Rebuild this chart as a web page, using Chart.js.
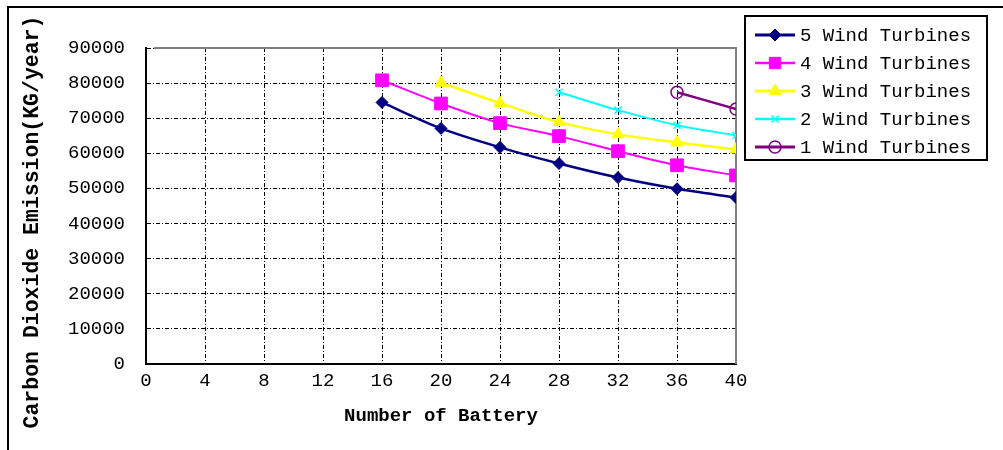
<!DOCTYPE html>
<html>
<head>
<meta charset="utf-8">
<script src="https://cdn.jsdelivr.net/npm/chart.js@4/dist/chart.umd.min.js"></script>
<style>
  html, body { margin: 0; padding: 0; background: #ffffff; }
  #wrap { width: 1003px; height: 450px; position: relative; }
  canvas { display: block; }
</style>
</head>
<body>
<div id="wrap"><canvas id="chart" width="1003" height="450"></canvas></div>
<script>
// Number of batteries on the x axis
const batteries = [16, 20, 24, 28, 32, 36, 40];

// Annual CO2 emission (KG/year) per turbine count; null = configuration not shown
const turbines5 = [74500, 67100, 61700, 57100, 53100, 49900, 47400];
const turbines4 = [80800, 74200, 68600, 64900, 60600, 56600, 53700];
const turbines3 = [null, 80100, 74300, 68900, 65400, 63100, 61100];
const turbines2 = [null, null, null, 77400, 72300, 68000, 65100];
const turbines1 = [null, null, null, null, null, 77400, 72600];

const seriesLabels = ['5 Wind Turbines', '4 Wind Turbines', '3 Wind Turbines', '2 Wind Turbines', '1 Wind Turbines'];

// Axis tick values
const xTickValues = [0, 4, 8, 12, 16, 20, 24, 28, 32, 36, 40];
const yTickValues = [0, 10000, 20000, 30000, 40000, 50000, 60000, 70000, 80000, 90000];

const yTitle = 'Carbon Dioxide Emission(KG/year)';

const FONT = "'Liberation Mono', 'DejaVu Sans Mono', monospace";

function toPoints(values) {
  const pts = [];
  values.forEach((v, i) => { if (v !== null) pts.push({ x: batteries[i], y: v }); });
  return pts;
}

const styles = [
  { color: '#000080', pointStyle: 'rectRot',  radius: 6, width: 2.5, fill: '#000080', pbw: 1 },
  { color: '#FF00FF', pointStyle: 'rect',     radius: 9, width: 2,   fill: '#FF00FF', pbw: 1 },
  { color: '#FFFF00', pointStyle: 'triangle', radius: 7, width: 2.5, fill: '#FFFF00', pbw: 1 },
  { color: '#00FFFF', pointStyle: 'crossRot', radius: 5, width: 2,   fill: '#00FFFF', pbw: 1.5 },
  { color: '#800080', pointStyle: 'circle',   radius: 6, width: 2.5, fill: 'rgba(0,0,0,0)', pbw: 1.5 }
];
const seriesValues = [turbines5, turbines4, turbines3, turbines2, turbines1];

const datasets = seriesValues.map((vals, i) => ({
  label: seriesLabels[i],
  data: toPoints(vals),
  borderColor: styles[i].color,
  backgroundColor: styles[i].fill,
  borderWidth: styles[i].width,
  pointStyle: styles[i].pointStyle,
  pointRadius: styles[i].radius,
  pointBorderColor: styles[i].color,
  pointBackgroundColor: styles[i].fill,
  pointBorderWidth: styles[i].pbw,
  tension: 0.3,
  fill: false
}));

// Outer frame of the figure, gray top/right plot edges, vertical y title and the boxed legend
const decorations = {
  id: 'decorations',
  beforeDatasetsDraw(chart) {
    const { ctx, chartArea: a } = chart;
    ctx.save();
    ctx.strokeStyle = '#808080';
    ctx.lineWidth = 2;
    ctx.beginPath();
    ctx.moveTo(a.left + 8, a.top);
    ctx.lineTo(a.right, a.top);
    ctx.lineTo(a.right, a.bottom);
    ctx.stroke();
    ctx.restore();
  },
  afterDraw(chart) {
    const { ctx } = chart;
    ctx.save();
    // figure frame (top and left edges)
    ctx.strokeStyle = '#000';
    ctx.lineWidth = 2;
    ctx.beginPath();
    ctx.moveTo(1003, 7);
    ctx.lineTo(8, 7);
    ctx.lineTo(8, 450);
    ctx.stroke();

    // y axis title, rotated
    ctx.save();
    ctx.translate(33, 222);
    ctx.rotate(-Math.PI / 2);
    ctx.fillStyle = '#000';
    ctx.font = 'bold 21.5px ' + FONT;
    ctx.textAlign = 'center';
    ctx.textBaseline = 'middle';
    ctx.fillText(yTitle, 0, 0);
    ctx.restore();

    // legend box
    const bx = 745, by = 16, bw = 242, bh = 144;
    ctx.fillStyle = '#fff';
    ctx.fillRect(bx, by, bw, bh);
    ctx.lineWidth = 2;
    ctx.strokeStyle = '#000';
    ctx.strokeRect(bx, by, bw, bh);

    chart.data.datasets.forEach((ds, i) => {
      const y = 35 + i * 28;
      ctx.strokeStyle = ds.borderColor;
      ctx.lineWidth = ds.borderWidth + 0.5;
      ctx.beginPath();
      ctx.moveTo(755, y);
      ctx.lineTo(795, y);
      ctx.stroke();
      ctx.fillStyle = ds.pointBackgroundColor;
      ctx.strokeStyle = ds.pointBorderColor;
      ctx.lineWidth = ds.pointBorderWidth;
      const r = ds.pointStyle === 'rect' ? 8 : ds.pointRadius;
      Chart.helpers.drawPoint(ctx, { pointStyle: ds.pointStyle, radius: r, rotation: 0, borderWidth: ds.pointBorderWidth }, 775, y);
      ctx.fillStyle = '#000';
      ctx.font = '19px ' + FONT;
      ctx.textAlign = 'left';
      ctx.textBaseline = 'middle';
      ctx.fillText(ds.label, 800, y + 1);
    });
    ctx.restore();
  }
};

new Chart(document.getElementById('chart'), {
  type: 'line',
  data: { datasets },
  plugins: [decorations],
  options: {
    responsive: false,
    animation: false,
    devicePixelRatio: 1,
    layout: { padding: { left: 0, top: 48, right: 267, bottom: 0 } },
    plugins: { legend: { display: false }, tooltip: { enabled: false } },
    elements: { line: { capBezierPoints: true } },
    scales: {
      x: {
        type: 'linear',
        min: 0,
        max: 40,
        afterBuildTicks: s => { s.ticks = xTickValues.map(v => ({ value: v })); },
        afterFit: s => { s.height = 86; },
        ticks: { color: '#000', font: { family: FONT, size: 19 }, padding: 6, maxRotation: 0, autoSkip: false },
        grid: { color: '#000', lineWidth: 1, drawTicks: false },
        border: { color: '#000', width: 2, dash: [4, 2, 1, 2] },
        title: {
          display: true,
          text: 'Number of Battery',
          color: '#000',
          font: { family: FONT, size: 19, weight: 'bold' },
          padding: { top: 0, bottom: 22 }
        }
      },
      y: {
        type: 'linear',
        min: 0,
        max: 90000,
        afterBuildTicks: s => { s.ticks = yTickValues.map(v => ({ value: v })); },
        afterFit: s => { s.width = 146; },
        ticks: { color: '#000', font: { family: FONT, size: 19 }, padding: 21, callback: v => String(v) },
        grid: { color: '#000', lineWidth: 1, drawTicks: false },
        border: { color: '#000', width: 2, dash: [4, 2, 1, 2] },
        title: { display: false }
      }
    }
  }
});
</script>
</body>
</html>
